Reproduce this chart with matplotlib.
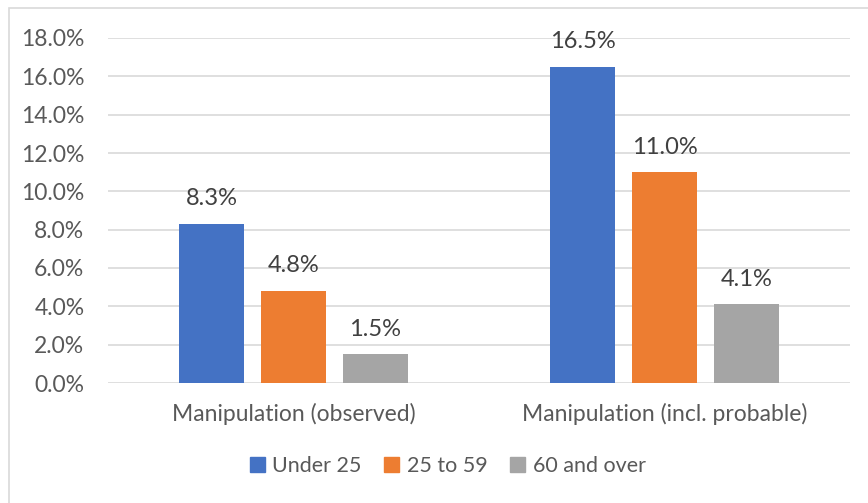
import matplotlib
matplotlib.use("Agg")
import matplotlib.pyplot as plt
from matplotlib.patches import Rectangle
import numpy as np

categories = ["Manipulation (observed)", "Manipulation (incl. probable)"]
series_names = ["Under 25", "25 to 59", "60 and over"]
under_25 = [8.3, 16.5]
age_25_59 = [4.8, 11.0]
over_60 = [1.5, 4.1]
y_ticks = [0, 2, 4, 6, 8, 10, 12, 14, 16, 18]

colors = ["#4472C4", "#ED7D31", "#A5A5A5"]
text_color = "#595959"
grid_color = "#D9D9D9"

plt.rcParams["font.family"] = ["Lato", "DejaVu Sans"]

fig = plt.figure(figsize=(8.68, 5.03), dpi=100)
fig.patch.set_facecolor("white")

# light chart-area frame
fig.add_artist(Rectangle((9 / 868, -0.05), 1.2, 1 - 8 / 503 + 0.05,
                         transform=fig.transFigure, fill=False,
                         edgecolor=grid_color, linewidth=1.2))

ax = fig.add_axes([108 / 868, 1 - 383 / 503, (850 - 108) / 868, (383 - 38) / 503])

x = np.arange(len(categories))
width = 0.175
pitch = 0.221
all_series = [under_25, age_25_59, over_60]
for i, (vals, name, col) in enumerate(zip(all_series, series_names, colors)):
    pos = x + (i - 1) * pitch
    ax.bar(pos, vals, width=width, color=col, label=name, zorder=3)
    for p, v in zip(pos, vals):
        ax.annotate(f"{v:.1f}%", (p, v), xytext=(0, 18), textcoords="offset points",
                    ha="center", va="center", fontsize=17, color="#404040")

ax.set_xlim(-0.5, 1.5)
ax.set_ylim(0, 18)
ax.set_yticks(y_ticks)
ax.set_yticklabels([f"{t:.1f}%" for t in y_ticks])
ax.set_xticks(x)
ax.set_xticklabels(categories)
ax.yaxis.grid(True, color=grid_color, linewidth=1.2, zorder=0)
ax.tick_params(axis="y", length=0, labelsize=16.5, labelcolor=text_color, pad=17)
ax.tick_params(axis="x", length=0, labelsize=16.5, labelcolor=text_color, pad=14)
for s in ax.spines.values():
    s.set_visible(False)

handles = [Rectangle((0, 0), 1, 1, color=c) for c in colors]
fig.legend(handles, series_names, loc="center", bbox_to_anchor=(0.516, 1 - 466 / 503),
           ncol=3, frameon=False, fontsize=15.5, labelcolor=text_color,
           handlelength=0.7, handleheight=0.7, handletextpad=0.35, columnspacing=1.05)

fig.savefig("out.png", dpi=100, facecolor="white")
